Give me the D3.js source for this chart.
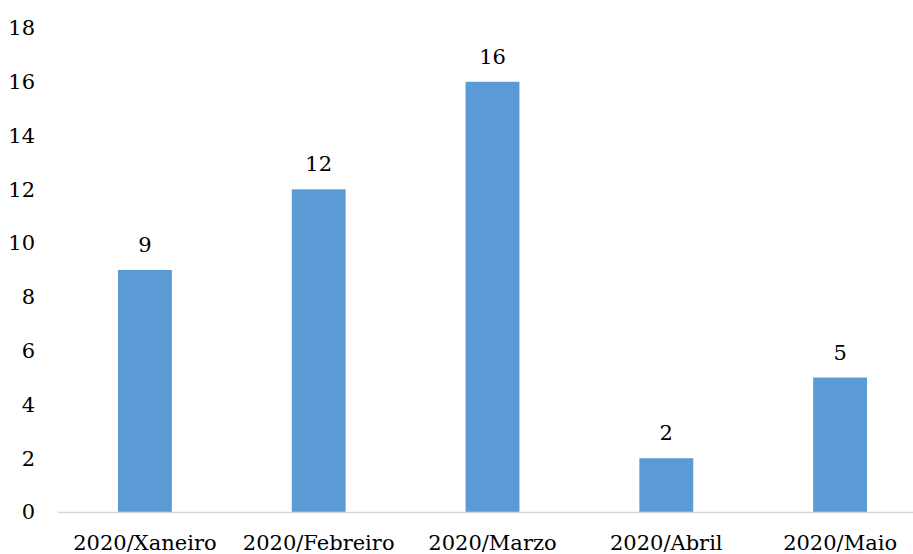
<!DOCTYPE html>
<html>
<head>
<meta charset="utf-8">
<script src="https://cdn.jsdelivr.net/npm/d3@7"></script>
<style>
  body { margin: 0; background: #fff; }
  text { font-family: "DejaVu Serif", serif; fill: #000; }
</style>
</head>
<body>
<svg id="chart" width="913" height="554"></svg>
<script>
var months = ['2020/Xaneiro', '2020/Febreiro', '2020/Marzo', '2020/Abril', '2020/Maio'];
var counts = [9, 12, 16, 2, 5];
var yTicks = [0, 2, 4, 6, 8, 10, 12, 14, 16, 18];

var svg = d3.select('#chart');

var x = d3.scaleBand()
  .domain(months)
  .range([58, 927])
  .paddingInner(0.69)
  .paddingOuter(0.345);

var y = d3.scaleLinear()
  .domain([0, 18])
  .range([512, 28]);

// y tick labels
svg.append('g')
  .selectAll('text')
  .data(yTicks)
  .join('text')
  .attr('x', 35)
  .attr('y', function(d) { return y(d); })
  .attr('dy', '0.35em')
  .attr('text-anchor', 'end')
  .style('font-size', '21px')
  .text(function(d) { return d; });

// bars
svg.append('g')
  .selectAll('rect')
  .data(counts)
  .join('rect')
  .attr('x', function(d, i) { return x(months[i]); })
  .attr('y', function(d) { return y(d); })
  .attr('width', x.bandwidth())
  .attr('height', function(d) { return y(0) - y(d); })
  .attr('fill', '#5B9BD5');

// axis line
svg.append('line')
  .attr('x1', 58)
  .attr('x2', 913)
  .attr('y1', y(0) + 0.5)
  .attr('y2', y(0) + 0.5)
  .attr('stroke', '#d9d9d9')
  .attr('stroke-width', 1.5);

// value labels
svg.append('g')
  .selectAll('text')
  .data(counts)
  .join('text')
  .attr('x', function(d, i) { return x(months[i]) + x.bandwidth() / 2; })
  .attr('y', function(d) { return y(d) - 18; })
  .attr('text-anchor', 'middle')
  .style('font-size', '21px')
  .text(function(d) { return d; });

// category labels
svg.append('g')
  .selectAll('text')
  .data(months)
  .join('text')
  .attr('x', function(d) { return x(d) + x.bandwidth() / 2; })
  .attr('y', 550)
  .attr('text-anchor', 'middle')
  .style('font-size', '21px')
  .text(function(d) { return d; });
</script>
</body>
</html>
